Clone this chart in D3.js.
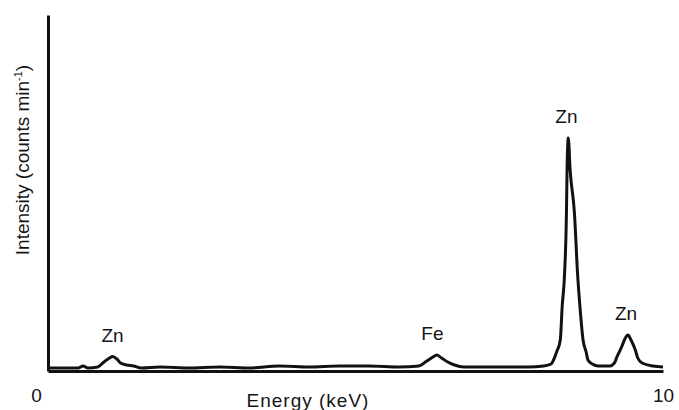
<!DOCTYPE html>
<html>
<head>
<meta charset="utf-8">
<script src="https://cdn.jsdelivr.net/npm/d3@7"></script>
<style>
  html, body { margin: 0; padding: 0; background: #fff; }
  svg { display: block; }
  text { font-family: "Liberation Sans", Arial, sans-serif; fill: #151515; }
</style>
</head>
<body>
<svg id="chart" width="679" height="410"></svg>
<script>
// X-ray emission spectrum: energy (keV) against intensity (arbitrary counts/min)
const energy = [
  0.00, 0.49, 0.57, 0.65, 0.81, 0.91, 1.00, 1.05, 1.12, 1.18, 1.28, 1.39, 1.52,
  1.82, 2.30, 2.79, 3.27, 3.76, 4.25, 4.73, 5.22, 5.71, 6.03,
  6.16, 6.26, 6.32, 6.40, 6.50, 6.61, 6.76,
  7.33, 7.81, 8.06, 8.18, 8.22, 8.27, 8.33, 8.36, 8.40, 8.43, 8.44, 8.46,
  8.49, 8.56, 8.61, 8.65, 8.70, 8.75, 8.78, 8.85, 8.95,
  9.14, 9.21, 9.25, 9.32, 9.38, 9.43, 9.48, 9.55, 9.59, 9.66, 9.84, 10.00
];
const intensity = [
  0.84, 0.84, 1.40, 0.84, 1.12, 2.53, 3.65, 4.07, 3.37, 2.25, 1.69, 1.40, 0.84,
  1.12, 0.84, 1.12, 0.84, 1.40, 1.12, 1.40, 1.40, 1.12, 1.40,
  2.81, 3.93, 4.49, 3.65, 2.53, 1.69, 1.12,
  1.12, 1.12, 1.40, 1.97, 3.09, 5.34, 8.71, 17.98, 27.53, 44.38, 56.46, 65.45,
  56.46, 44.38, 27.53, 17.98, 8.71, 5.34, 3.09, 1.97, 1.40,
  1.40, 2.25, 3.93, 6.46, 8.99, 10.11, 8.71, 5.90, 3.65, 2.25, 1.40, 1.12
];

// Peak identifications
const peakLabels = ["Zn", "Fe", "Zn", "Zn"];
const peakEnergy = [1.05, 6.32, 8.46, 9.43];
const peakLabelEnergy = [1.05, 6.25, 8.43, 9.40];

const xTickValues = [0, 10];
const xTickLabels = ["0", "10"];

const svg = d3.select("#chart");

const x = d3.scaleLinear().domain([0, 10]).range([48, 663]);
const y = d3.scaleLinear().domain([0, 100]).range([371, 15]);

const points = energy.map((e, i) => ({ e, v: intensity[i] }));

// Spectrum trace
const line = d3.line()
  .x(d => x(d.e))
  .y(d => y(d.v))
  .curve(d3.curveMonotoneX);

svg.append("path")
  .datum(points)
  .attr("d", line)
  .attr("fill", "none")
  .attr("stroke", "#111")
  .attr("stroke-width", 3)
  .attr("stroke-linejoin", "round");

// Axes
const xAxis = d3.axisBottom(x)
  .tickValues(xTickValues)
  .tickFormat((d, i) => xTickLabels[i])
  .tickSize(0)
  .tickPadding(18);

const gx = svg.append("g")
  .attr("transform", `translate(0,${y(0)})`)
  .call(xAxis);
gx.select(".domain").attr("stroke", "#111").attr("stroke-width", 3);
gx.selectAll(".tick text")
  .attr("font-size", 19)
  .attr("font-family", "Liberation Sans, Arial, sans-serif")
  .attr("fill", "#151515")
  .attr("dx", d => d === 0 ? -12 : 0);

const yAxis = d3.axisLeft(y).tickValues([]).tickSizeOuter(0);
const gy = svg.append("g")
  .attr("transform", `translate(${x(0)},0)`)
  .call(yAxis);
gy.select(".domain").attr("stroke", "#111").attr("stroke-width", 3);

// Axis titles
svg.append("text")
  .attr("x", 308)
  .attr("y", 407)
  .attr("text-anchor", "middle")
  .attr("font-size", 19)
  .attr("letter-spacing", 1)
  .text("Energy (keV)");

const yTitle = svg.append("text")
  .attr("transform", "translate(29,160) rotate(-90)")
  .attr("text-anchor", "middle")
  .attr("font-size", 19);
yTitle.append("tspan").text("Intensity (counts min");
yTitle.append("tspan").attr("font-size", 11).attr("dy", -7).text("-1");
yTitle.append("tspan").attr("dy", 7).text(")");

// Peak labels
const peakValue = e => {
  const i = d3.minIndex(energy, v => Math.abs(v - e));
  return intensity[i];
};

svg.append("g")
  .selectAll("text")
  .data(peakLabels)
  .join("text")
  .attr("x", (d, i) => x(peakLabelEnergy[i]))
  .attr("y", (d, i) => y(peakValue(peakEnergy[i])) - 15)
  .attr("text-anchor", "middle")
  .attr("font-size", 19)
  .text(d => d);
</script>
</body>
</html>
